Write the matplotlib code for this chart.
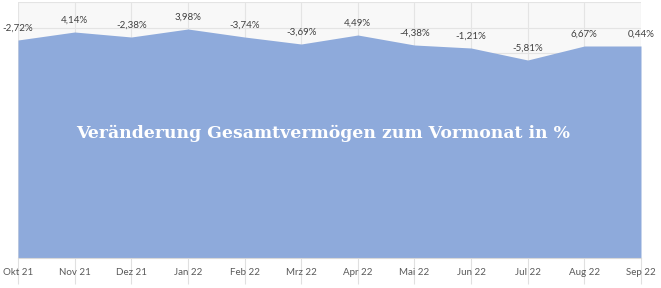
import numpy as np
import matplotlib as mpl
mpl.use('Agg')
import matplotlib.pyplot as plt

# months and values
months = ['Okt 21', 'Nov 21', 'Dez 21', 'Jan 22', 'Feb 22', 'Mrz 22',
          'Apr 22', 'Mai 22', 'Jun 22', 'Jul 22', 'Aug 22', 'Sep 22']
# total assets (relative units, estimated from the area height)
vermoegen = [218, 226, 221, 229, 221, 214, 223, 213, 210, 198, 212, 212]
# printed monthly changes
labels = ['-2,72%', '4,14%', '-2,38%', '3,98%', '-3,74%', '-3,69%',
          '4,49%', '-4,38%', '-1,21%', '-5,81%', '6,67%', '0,44%']

W, H = 661, 288
fig = plt.figure(figsize=(W / 100, H / 100), dpi=100)
ax = fig.add_axes([18 / W, (H - 258) / H, (641 - 18) / W, (258 - 2) / H])

x = np.arange(len(months))
ax.fill_between(x, 0, vermoegen, color='#8eaadb', lw=0, zorder=2)

ax.set_xlim(0, len(months) - 1)
ax.set_ylim(0, 256)

# light grid behind the area
ax.set_facecolor('#f8f8f8')
ax.set_yticks(np.arange(0, 257, 25.6))
ax.grid(True, axis='both', color='#e4e4e4', lw=0.8, zorder=0)
ax.tick_params(axis='y', left=False, labelleft=False)

ax.set_xticks(x)
ax.set_xticklabels(months, fontsize=7, color='#595959', family='Lato')
ax.tick_params(axis='x', length=19, width=0.8, color='#e0e0e0', pad=-12)

for s in ['left', 'right', 'top']:
    ax.spines[s].set_visible(False)
ax.spines['bottom'].set_color('#d9d9d9')

# value labels above the area
for i, (v, t) in enumerate(zip(vermoegen, labels)):
    ax.annotate(t, xy=(i, v), xytext=(0, 12), textcoords='offset pixels',
                ha='center', va='center', fontsize=7, color='#404040',
                family='Lato', annotation_clip=False, zorder=5)

ax.text(0.49, 0.485, 'Veränderung Gesamtvermögen zum Vormonat in %',
        transform=ax.transAxes, ha='center', va='center', color='white',
        fontsize=12.4, fontweight='bold', family='DejaVu Serif', zorder=5)

fig.savefig('out.png', dpi=100)
